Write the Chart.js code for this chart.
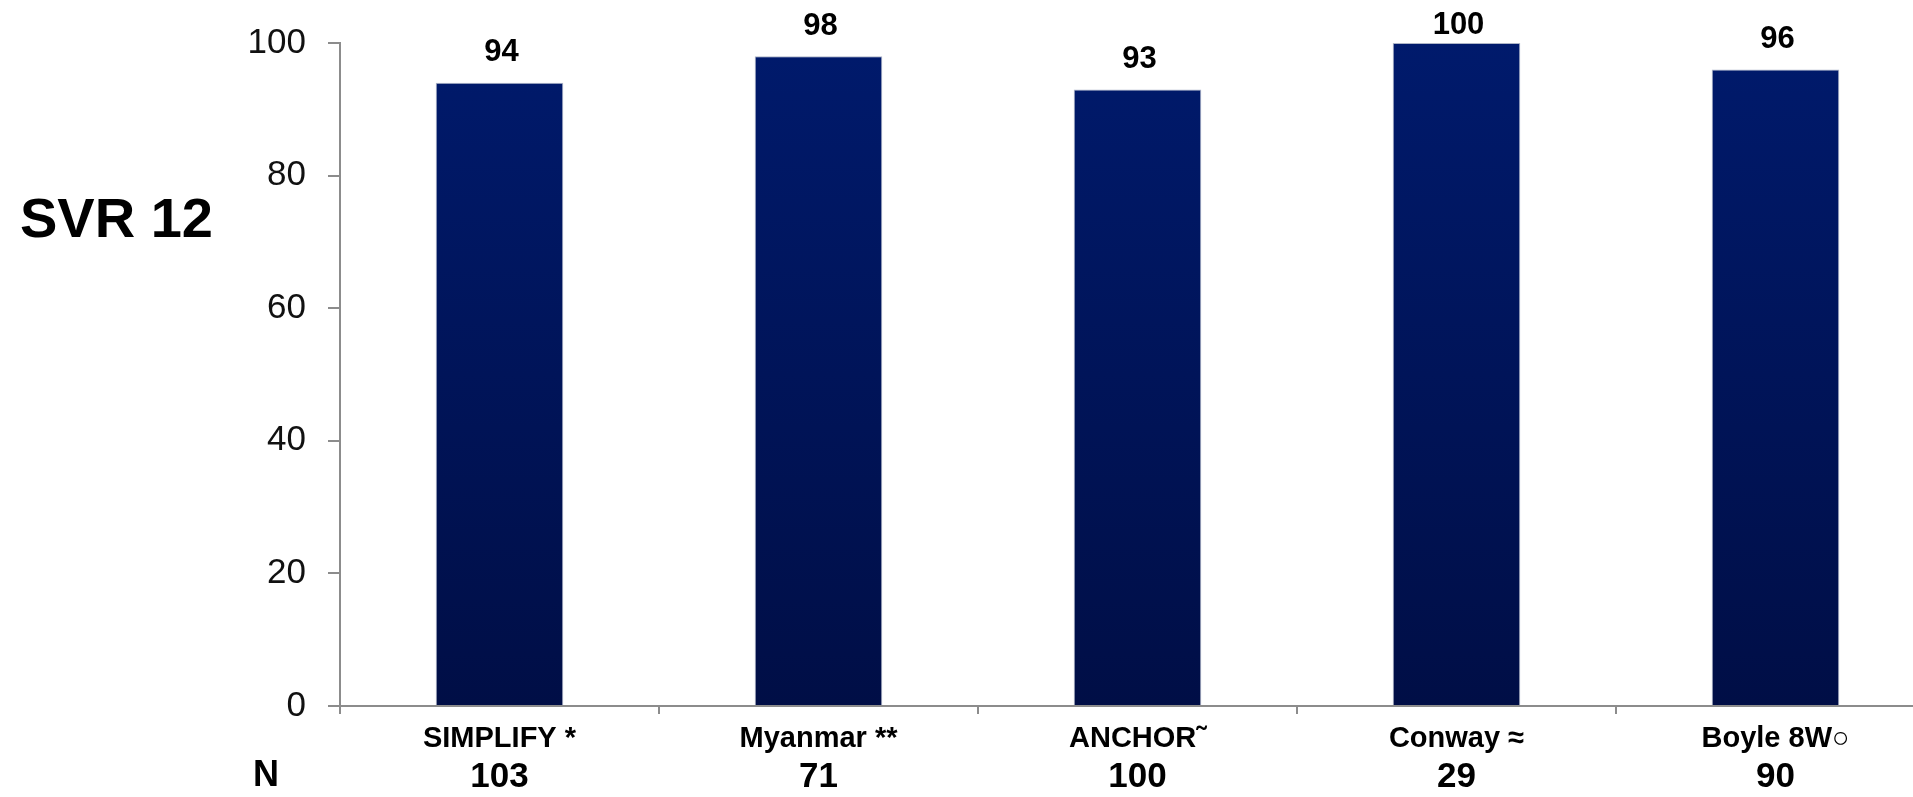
<!DOCTYPE html>
<html>
<head>
<meta charset="utf-8">
<style>
  html, body { margin: 0; padding: 0; background: #fff; overflow: hidden; }
  #chart { display: block; }
</style>
<script src="https://cdn.jsdelivr.net/npm/chart.js@4.4.1/dist/chart.umd.min.js"></script>
</head>
<body>
<canvas id="chart" width="1960" height="797"></canvas>
<script>
// données
const categories = ['SIMPLIFY *', 'Myanmar **', 'ANCHOR˜', 'Conway ≈', 'Boyle 8W○'];
const svrValues = [94, 98, 93, 100, 96];
const nValues = [103, 71, 100, 29, 90];
const yTickValues = [0, 20, 40, 60, 80, 100];

const FONT = "'Liberation Sans', Arial, sans-serif";
const AXIS_GREY = '#8c8c8c';

function barGradient(context) {
    const chart = context.chart;
    const area = chart.chartArea;
    if (!area) return '#001560';
    const g = chart.ctx.createLinearGradient(0, area.top, 0, area.bottom);
    g.addColorStop(0, '#001a6c');
    g.addColorStop(1, '#000e46');
    return g;
}

// valeurs au-dessus des barres + ligne "N"
const labelsPlugin = {
    id: 'labelsPlugin',
    afterDatasetsDraw(chart) {
        const ctx = chart.ctx;
        const meta = chart.getDatasetMeta(0);
        const xScale = chart.scales.x;
        ctx.save();
        ctx.fillStyle = '#000';
        ctx.textAlign = 'center';
        ctx.textBaseline = 'middle';

        ctx.font = 'bold 31px ' + FONT;
        meta.data.forEach((bar, i) => {
            const y = Math.max(bar.y - 30, 25);
            ctx.fillText(String(svrValues[i]), bar.x + 2, y);
        });

        ctx.font = 'bold 35px ' + FONT;
        nValues.forEach((n, i) => {
            ctx.fillText(String(n), xScale.getPixelForValue(i), 777);
        });

        ctx.font = 'bold 36px ' + FONT;
        ctx.fillText('N', 266, 776);

        ctx.textAlign = 'left';
        ctx.font = 'bold 56px ' + FONT;
        ctx.fillText('SVR 12', 20, 222);
        ctx.restore();
    }
};

const ctx = document.getElementById('chart').getContext('2d');

const chart = new Chart(ctx, {
    type: 'bar',
    data: {
        labels: categories,
        datasets: [{
            label: 'SVR 12',
            data: svrValues,
            backgroundColor: barGradient,
            borderColor: 'rgba(140, 150, 175, 0.7)',
            borderWidth: 1,
            categoryPercentage: 1.0,
            barPercentage: 0.4
        }]
    },
    options: {
        responsive: false,
        animation: false,
        devicePixelRatio: 1,
        layout: {
            padding: { left: 0, right: 25, top: 40, bottom: 0 }
        },
        plugins: {
            legend: { display: false },
            tooltip: { enabled: false }
        },
        scales: {
            x: {
                afterFit: scale => { scale.height = 91; },
                grid: {
                    display: true,
                    drawOnChartArea: false,
                    offset: true,
                    tickLength: 8,
                    color: AXIS_GREY,
                    lineWidth: 2
                },
                border: { display: true, color: AXIS_GREY, width: 2 },
                ticks: {
                    color: '#000',
                    font: { family: FONT, size: 29, weight: 'bold' },
                    padding: 8,
                    maxRotation: 0,
                    autoSkip: false
                }
            },
            y: {
                min: 0,
                max: 100,
                afterFit: scale => { scale.width = 340; },
                afterBuildTicks: scale => {
                    scale.ticks = yTickValues.map(v => ({ value: v }));
                },
                grid: {
                    display: true,
                    drawOnChartArea: false,
                    tickLength: 12,
                    color: AXIS_GREY,
                    lineWidth: 2
                },
                border: { display: true, color: AXIS_GREY, width: 2 },
                ticks: {
                    color: '#111',
                    font: { family: FONT, size: 35 },
                    padding: 22
                }
            }
        }
    },
    plugins: [labelsPlugin]
});
</script>
</body>
</html>
